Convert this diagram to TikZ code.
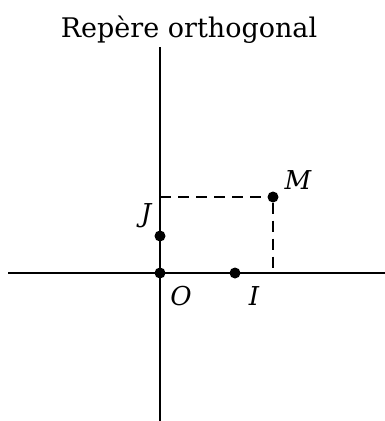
\documentclass[tikz,border=0pt]{standalone}
\usepackage{fontspec}
\setmainfont{DejaVu Serif}
\begin{document}
\begin{tikzpicture}[x=1pt,y=-1pt,
  axis/.style={line width=2.8pt},
  guide/.style={line width=2pt,dash pattern=on 11pt off 7pt},
  pt/.style={circle,fill=black,inner sep=0pt,minimum size=11pt},
  lab/.style={font=\fontsize{26}{30}\selectfont\itshape},
  title/.style={font=\fontsize{27}{32}\selectfont}]
\useasboundingbox (0,0) rectangle (385,421);
\node[title] (t) at (189,30) {Repère orthogonal};
\coordinate (xl) at (8,273);
\coordinate (xr) at (385,273);
\coordinate (yt) at (160,47);
\coordinate (yb) at (160,421);
\draw[axis] (xl) -- (xr);
\draw[axis] (yt) -- (yb);
\node[pt] (O) at (160,273) {};
\node[pt] (I) at (235,273) {};
\node[pt] (J) at (160,236) {};
\node[pt] (M) at (273,197) {};
\coordinate (My) at (160,197);
\coordinate (Mx) at (273,273);
\draw[guide] (My) -- (M) -- (Mx);
\node[lab] (lO) at (181,296) {O};
\node[lab] (lI) at (254,296) {I};
\node[lab] (lJ) at (146,216) {J};
\node[lab] (lM) at (298,180) {M};
\end{tikzpicture}
\end{document}
